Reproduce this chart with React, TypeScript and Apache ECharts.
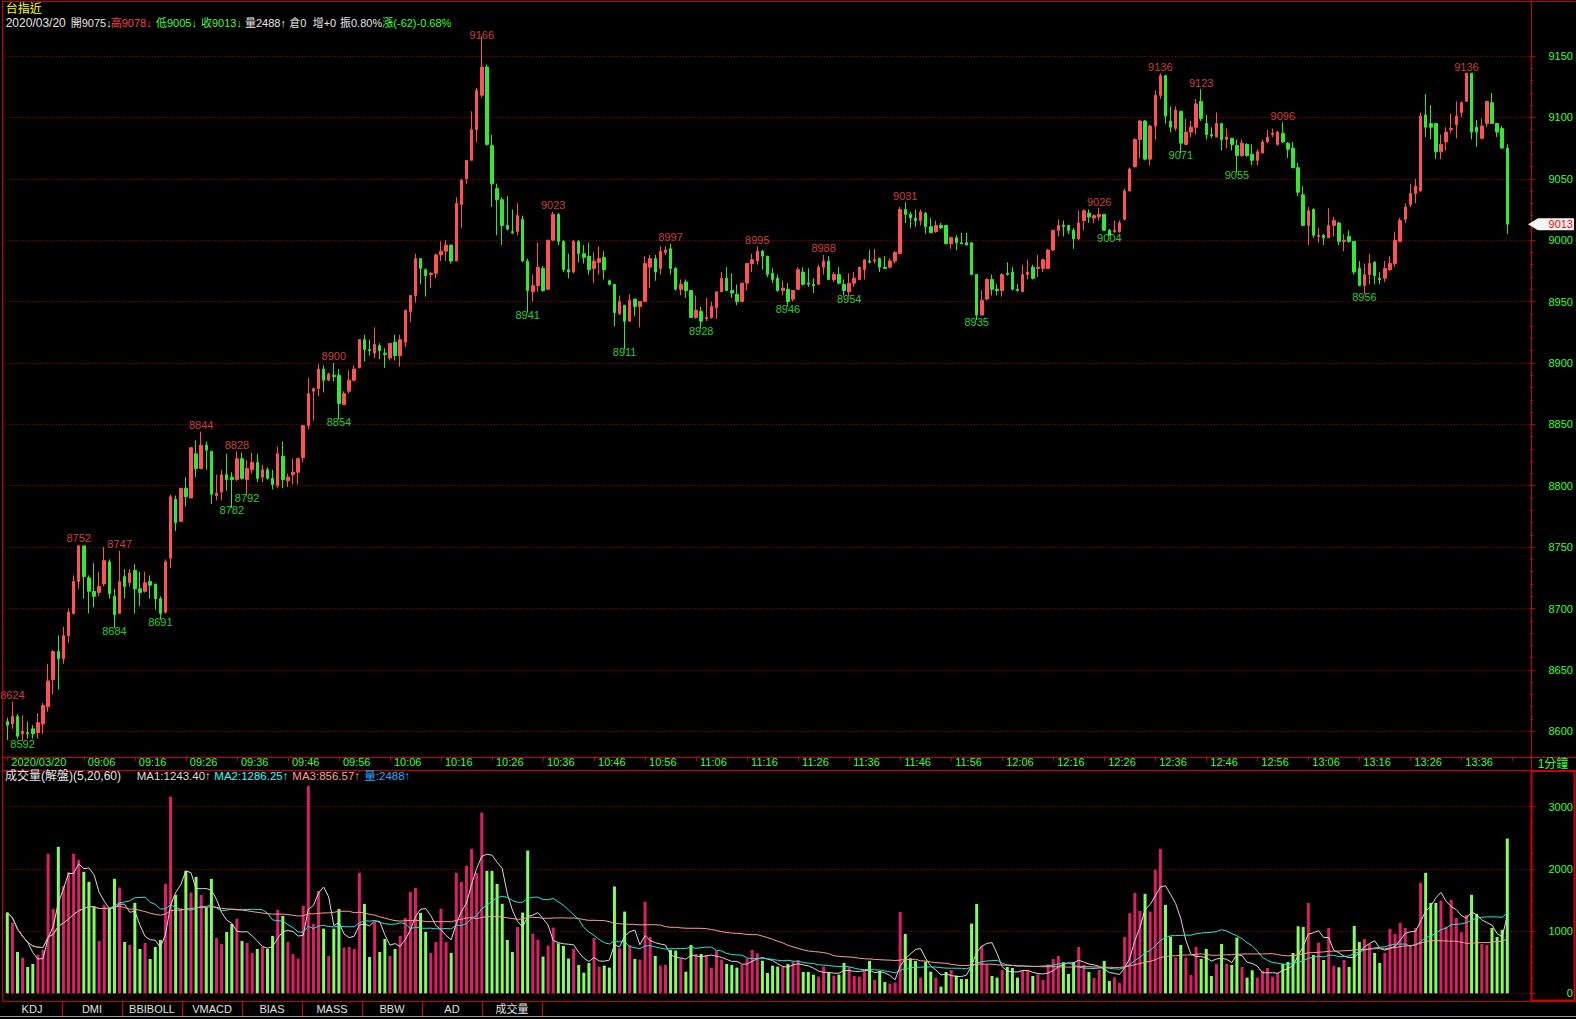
import React, { useEffect, useRef } from "react";
import * as echarts from "echarts";

const FONT = "'Liberation Sans', 'Noto Sans CJK TC', sans-serif";

// ---- data (1-minute bars, 2020/03/20, first bar 08:51) ----
const opens = [
  8608, 8606, 8612, 8598, 8599, 8602, 8599, 8606, 8620, 8642,
  8665, 8659, 8678, 8696, 8722, 8751, 8725, 8714, 8713, 8720,
  8738, 8710, 8696, 8726, 8721, 8731, 8716, 8714, 8722, 8720,
  8708, 8697, 8741, 8789, 8771, 8798, 8790, 8826, 8814, 8833,
  8828, 8792, 8795, 8809, 8807, 8805, 8822, 8805, 8813, 8819,
  8807, 8813, 8806, 8800, 8824, 8804, 8809, 8811, 8823, 8849,
  8877, 8879, 8895, 8886, 8890, 8890, 8866, 8877, 8886, 8896,
  8919, 8911, 8908, 8914, 8908, 8904, 8917, 8906, 8917, 8942,
  8955, 8985, 8976, 8972, 8973, 8988, 8991, 8996, 8983, 9029,
  9050, 9065, 9090, 9118, 9141, 9077, 9042, 9033, 9012, 9007,
  9007, 9017, 8983, 8958, 8963, 8977, 8960, 9000, 9021, 8999,
  8976, 8974, 8999, 8989, 8987, 8977, 8982, 8986, 8967, 8964,
  8940, 8947, 8934, 8952, 8946, 8950, 8978, 8985, 8977, 8990,
  8993, 8977, 8960, 8966, 8959, 8937, 8942, 8936, 8937, 8945,
  8958, 8969, 8959, 8956, 8950, 8965, 8981, 8983, 8991, 8987,
  8973, 8969, 8959, 8960, 8952, 8960, 8974, 8965, 8964, 8964,
  8978, 8983, 8968, 8972, 8964, 8958, 8965, 8968, 8976, 8983,
  8983, 8985, 8978, 8978, 8983, 8989, 9025, 9021, 9018, 9016,
  9022, 9011, 9007, 9012, 9012, 8997, 9002, 8998, 8998, 8998,
  8972, 8939, 8952, 8968, 8960, 8959, 8973, 8974, 8960, 8958,
  8972, 8978, 8977, 8977, 8977, 8992, 9008, 9012, 9012, 9008,
  9001, 9016, 9022, 9018, 9019, 9021, 9008, 9007, 9007, 9017,
  9040, 9060, 9082, 9097, 9066, 9093, 9118, 9134, 9097, 9091,
  9105, 9078, 9088, 9092, 9113, 9095, 9086, 9084, 9095, 9082,
  9083, 9077, 9069, 9078, 9070, 9065, 9071, 9080, 9086, 9078,
  9087, 9079, 9075, 9059, 9037, 9012, 9025, 9003, 9004, 9002,
  9012, 9014, 8999, 9003, 8999, 8977, 8963, 8972, 8982, 8969,
  8969, 8976, 8981, 8999, 9017, 9029, 9038, 9040, 9102, 9095,
  9095, 9072, 9080, 9090, 9094, 9104, 9113, 9136, 9092, 9083,
  9095, 9112, 9095, 9091, 9075,
];
const closes = [
  8605, 8612, 8596, 8600, 8598, 8598, 8607, 8621, 8641, 8665,
  8659, 8678, 8697, 8722, 8751, 8726, 8714, 8710, 8718, 8739,
  8712, 8695, 8722, 8718, 8729, 8716, 8713, 8721, 8719, 8708,
  8696, 8738, 8791, 8770, 8798, 8791, 8831, 8814, 8833, 8829,
  8793, 8794, 8809, 8805, 8805, 8822, 8806, 8814, 8819, 8806,
  8813, 8806, 8801, 8826, 8805, 8807, 8811, 8822, 8849, 8875,
  8879, 8895, 8886, 8891, 8889, 8867, 8875, 8886, 8895, 8919,
  8911, 8910, 8915, 8910, 8907, 8916, 8906, 8919, 8943, 8955,
  8985, 8977, 8971, 8973, 8988, 8991, 8996, 8983, 9030, 9049,
  9065, 9090, 9122, 9141, 9078, 9046, 9033, 9012, 9009, 9006,
  9020, 8983, 8959, 8963, 8978, 8959, 9000, 9021, 8999, 8976,
  8974, 8999, 8989, 8986, 8976, 8983, 8985, 8976, 8964, 8941,
  8950, 8934, 8951, 8946, 8950, 8981, 8985, 8974, 8991, 8992,
  8977, 8960, 8964, 8959, 8937, 8943, 8934, 8937, 8946, 8958,
  8969, 8959, 8957, 8950, 8965, 8981, 8984, 8991, 8987, 8972,
  8968, 8959, 8961, 8950, 8959, 8976, 8964, 8964, 8963, 8978,
  8983, 8968, 8972, 8965, 8959, 8965, 8969, 8978, 8984, 8982,
  8984, 8978, 8977, 8983, 8990, 9025, 9021, 9018, 9016, 9023,
  9011, 9006, 9012, 9010, 8997, 9002, 8998, 8997, 8996, 8972,
  8939, 8951, 8968, 8960, 8959, 8972, 8972, 8960, 8959, 8972,
  8974, 8969, 8978, 8984, 8992, 9008, 9012, 9011, 9008, 9001,
  9014, 9024, 9019, 9020, 9021, 9008, 9004, 9008, 9014, 9040,
  9058, 9082, 9097, 9066, 9093, 9118, 9134, 9101, 9092, 9106,
  9079, 9088, 9092, 9111, 9099, 9086, 9085, 9095, 9082, 9084,
  9078, 9069, 9079, 9069, 9065, 9072, 9080, 9084, 9087, 9088,
  9080, 9074, 9059, 9039, 9012, 9024, 9004, 9004, 9002, 9012,
  9016, 8999, 9000, 8999, 8974, 8963, 8972, 8981, 8971, 8968,
  8977, 8981, 9000, 9016, 9027, 9038, 9044, 9101, 9092, 9092,
  9072, 9078, 9088, 9091, 9101, 9112, 9136, 9088, 9088, 9093,
  9113, 9095, 9088, 9075, 9013,
];
const lows = [
  8593, 8602, 8594, 8592, 8594, 8594, 8594, 8598, 8616, 8630,
  8634, 8655, 8672, 8695, 8716, 8708, 8696, 8701, 8710, 8718,
  8708, 8684, 8696, 8708, 8718, 8696, 8702, 8713, 8708, 8699,
  8691, 8696, 8733, 8763, 8771, 8783, 8790, 8807, 8814, 8813,
  8785, 8788, 8788, 8796, 8782, 8804, 8805, 8792, 8810, 8803,
  8803, 8805, 8797, 8798, 8798, 8799, 8801, 8801, 8819, 8846,
  8853, 8873, 8876, 8885, 8885, 8854, 8866, 8875, 8885, 8896,
  8901, 8906, 8904, 8903, 8896, 8902, 8902, 8897, 8913, 8933,
  8949, 8964, 8954, 8961, 8969, 8983, 8983, 8981, 8983, 9010,
  9046, 9065, 9080, 9116, 9077, 9027, 9004, 8996, 9008, 9005,
  9004, 8982, 8941, 8950, 8958, 8958, 8960, 8999, 8996, 8974,
  8969, 8973, 8982, 8981, 8972, 8965, 8972, 8968, 8963, 8930,
  8939, 8911, 8934, 8938, 8929, 8950, 8961, 8967, 8972, 8988,
  8972, 8959, 8955, 8953, 8937, 8936, 8928, 8934, 8936, 8936,
  8958, 8959, 8953, 8947, 8950, 8959, 8974, 8980, 8976, 8970,
  8965, 8958, 8955, 8946, 8950, 8960, 8963, 8962, 8957, 8964,
  8972, 8968, 8966, 8964, 8955, 8954, 8962, 8968, 8968, 8981,
  8981, 8974, 8977, 8977, 8981, 8989, 9014, 9010, 9011, 9012,
  9005, 9006, 9006, 9009, 8997, 8993, 8992, 8997, 8996, 8972,
  8935, 8939, 8951, 8955, 8955, 8954, 8971, 8959, 8958, 8958,
  8968, 8968, 8970, 8974, 8977, 8991, 9003, 9003, 9005, 8993,
  9000, 9008, 9014, 9014, 9016, 9008, 9004, 9006, 9006, 9016,
  9040, 9059, 9067, 9065, 9061, 9082, 9115, 9095, 9088, 9089,
  9071, 9078, 9084, 9086, 9097, 9082, 9083, 9084, 9073, 9075,
  9073, 9055, 9068, 9068, 9061, 9061, 9071, 9079, 9084, 9077,
  9079, 9067, 9059, 9036, 9012, 8996, 9002, 8998, 8996, 9002,
  9003, 8996, 8991, 8998, 8972, 8963, 8956, 8964, 8964, 8964,
  8966, 8975, 8978, 8999, 9014, 9027, 9030, 9040, 9084, 9082,
  9066, 9066, 9073, 9087, 9083, 9100, 9113, 9082, 9076, 9082,
  9092, 9095, 9084, 9075, 9005,
];
const highs = [
  8611, 8624, 8614, 8613, 8608, 8605, 8615, 8623, 8655, 8666,
  8678, 8685, 8700, 8727, 8752, 8751, 8727, 8737, 8730, 8750,
  8740, 8716, 8747, 8732, 8732, 8736, 8730, 8730, 8727, 8720,
  8710, 8740, 8793, 8792, 8798, 8807, 8831, 8837, 8844, 8836,
  8828, 8809, 8813, 8826, 8811, 8828, 8827, 8821, 8827, 8826,
  8817, 8815, 8813, 8832, 8836, 8810, 8822, 8823, 8849, 8888,
  8880, 8899, 8898, 8892, 8900, 8895, 8877, 8894, 8898, 8919,
  8923, 8919, 8929, 8916, 8912, 8916, 8923, 8923, 8943, 8955,
  8989, 8985, 8977, 8974, 8989, 8999, 9000, 8996, 9035, 9050,
  9065, 9105, 9124, 9166, 9143, 9086, 9046, 9035, 9036, 9025,
  9030, 9020, 8985, 8972, 8998, 8979, 9000, 9023, 9022, 9000,
  8989, 9000, 9000, 8996, 8998, 8990, 8995, 8991, 8968, 8964,
  8955, 8947, 8956, 8952, 8950, 8987, 8988, 8988, 8995, 8995,
  8997, 8978, 8968, 8968, 8959, 8955, 8946, 8953, 8950, 8958,
  8974, 8978, 8973, 8964, 8965, 8981, 8989, 8995, 8992, 8987,
  8977, 8972, 8967, 8965, 8959, 8978, 8978, 8977, 8969, 8980,
  8988, 8987, 8974, 8978, 8968, 8973, 8974, 8978, 8984, 8992,
  8993, 8986, 8987, 8985, 8991, 9027, 9031, 9023, 9025, 9025,
  9023, 9018, 9016, 9014, 9012, 9003, 9004, 9006, 9006, 8998,
  8972, 8959, 8969, 8972, 8964, 8973, 8982, 8978, 8964, 8980,
  8984, 8980, 8988, 8985, 8993, 9008, 9017, 9016, 9012, 9010,
  9024, 9025, 9025, 9021, 9026, 9021, 9009, 9016, 9016, 9042,
  9059, 9083, 9098, 9098, 9094, 9122, 9136, 9134, 9109, 9109,
  9105, 9099, 9097, 9115, 9123, 9102, 9092, 9104, 9095, 9091,
  9083, 9082, 9082, 9079, 9078, 9074, 9082, 9090, 9091, 9089,
  9096, 9080, 9080, 9063, 9044, 9027, 9026, 9010, 9005, 9026,
  9019, 9015, 9005, 9008, 8999, 8983, 8981, 8989, 8983, 8974,
  8983, 8987, 9007, 9018, 9030, 9046, 9050, 9104, 9119, 9110,
  9095, 9086, 9092, 9103, 9113, 9113, 9136, 9136, 9098, 9099,
  9113, 9120, 9095, 9093, 9078,
];
const volumes = [
  1298, 1137, 665, 573, 423, 472, 620, 700, 2243, 1357,
  2355, 1727, 1947, 2243, 2146, 1953, 1792, 1395, 842, 1421,
  1368, 1840, 1701, 826, 778, 1454, 713, 810, 552, 745,
  858, 1760, 3160, 1582, 1368, 1969, 1620, 1872, 1582, 1378,
  1840, 890, 793, 987, 1116, 1196, 842, 810, 649, 713,
  745, 713, 922, 1341, 1244, 826, 633, 557, 1405, 3337,
  1116, 1647, 1040, 600, 1040, 1357, 734, 745, 713, 1937,
  1438, 584, 1148, 665, 874, 600, 713, 922, 1212, 1631,
  1695, 1293, 987, 649, 826, 1357, 826, 649, 1937, 1792,
  2049, 2323, 1937, 2903, 1969, 1969, 1760, 1438, 858, 665,
  1067, 1298, 2296, 960, 863, 590, 767, 1057, 804, 761,
  557, 718, 455, 332, 488, 890, 429, 445, 413, 1717,
  724, 1314, 772, 552, 541, 1470, 906, 600, 445, 455,
  697, 686, 557, 348, 777, 632, 632, 616, 413, 686,
  541, 472, 455, 413, 455, 557, 697, 643, 525, 327,
  445, 429, 429, 472, 509, 536, 343, 343, 300, 268,
  429, 337, 284, 300, 488, 418, 278, 268, 375, 520,
  214, 359, 182, 155, 171, 1309, 955, 563, 520, 252,
  509, 348, 252, 107, 343, 375, 284, 230, 230, 1121,
  1438, 761, 466, 278, 252, 375, 423, 407, 252, 375,
  375, 278, 305, 214, 466, 552, 600, 499, 311, 499,
  745, 456, 343, 246, 375, 520, 199, 257, 166, 906,
  1288, 1615, 1325, 1599, 1314, 1985, 2323, 1422, 912, 574,
  777, 574, 295, 745, 552, 713, 278, 472, 794, 472,
  456, 896, 423, 252, 370, 252, 359, 407, 268, 327,
  472, 504, 649, 1078, 1067, 1454, 617, 815, 536, 1051,
  439, 418, 536, 423, 1083, 826, 874, 794, 649, 488,
  649, 1035, 955, 1132, 1051, 777, 1051, 1776, 1937, 1454,
  1454, 1491, 1072, 1502, 1212, 981, 1260, 1583, 1277, 794,
  777, 1051, 906, 1020, 2488,
];

// annotated swing highs / lows (bar indices)
const highMarkIdx = [1, 14, 22, 38, 45, 64, 93, 107, 130, 147, 160, 176, 214, 226, 234, 250, 286];
const lowMarkIdx = [3, 21, 30, 44, 47, 65, 102, 121, 136, 153, 165, 190, 216, 230, 241, 266];

const dateLabel = "2020/03/20";
const firstBarMinute = 8 * 60 + 51;
const slotCount = 299;
const categories = Array.from({ length: slotCount }, (_, i) => {
  const m = firstBarMinute + i;
  return String(Math.floor(m / 60)).padStart(2, "0") + ":" + String(m % 60).padStart(2, "0");
});

const priceAxis = { min: 8600, max: 9150, step: 50 };
const volumeAxis = { min: 0, max: 3000, step: 1000 };
const maPeriods = [5, 20, 60];

const headerTitle = "台指近";
const headerParts = [
  "2020/03/20", "開9075↓", "高9078↓", "低9005↓", "收9013↓", "量2488↑", "倉0", "增+0", "振0.80%", "漲(-62)-0.68%",
];
const volumeHeaderParts = ["成交量(解盤)(5,20,60)", "MA1:1243.40↑", "MA2:1286.25↑", "MA3:856.57↑", "量:2488↑"];
const tabNames = ["KDJ", "DMI", "BBIBOLL", "VMACD", "BIAS", "MASS", "BBW", "AD", "成交量"];

const RED_LINE = "#d00000";
const GRID_DOT = "#b00000";
const AXIS_GREEN = "#3cff3c";
const UP = "#ff5252";
const DOWN = "#33e833";
const VOL_UP = "#dc2068";
const VOL_DOWN = "#84fc62";

function movingAvg(arr: number[], n: number) {
  return arr.map((_, i) => {
    const s = Math.max(0, i - n + 1);
    let sum = 0;
    for (let k = s; k <= i; k++) sum += arr[k];
    return +(sum / (i - s + 1)).toFixed(2);
  });
}

export default function App() {
  const ref = useRef<HTMLDivElement>(null);
  useEffect(() => {
    const chart = echarts.init(ref.current!, null, { renderer: "svg" });
    const n = opens.length;
    const isUp = (i: number) =>
      closes[i] > opens[i] || (closes[i] === opens[i] && i > 0 && closes[i] >= closes[i - 1]);
    const candleData = opens.map((o, i) => [o, closes[i], lows[i], highs[i]]);
    const tickShown = (idx: number) => idx === 0 || (idx >= 15 && (firstBarMinute + idx) % 10 === 6);
    const labelShown = (idx: number) => tickShown(idx) && idx < n;

    let gid = 0;
    const line = (x1: number, y1: number, x2: number, y2: number, color = RED_LINE, w = 1) => ({
      id: "g" + gid++, type: "line", silent: true, z: 50,
      shape: { x1, y1, x2, y2 }, style: { stroke: color, lineWidth: w },
    });
    const text = (x: number, y: number, t: string, color: string, align = "left", size = 12) => ({
      id: "g" + gid++, type: "text", silent: true, z: 50, x, y,
      style: { text: t, fill: color, font: `${size}px ${FONT}`, align, verticalAlign: "middle" },
    });

    const W = "#e6e6e6";
    const G = "#3cff3c";
    const R = "#ff4040";
    const headerX = [5.7, 70.7, 110.7, 156, 201, 245, 289.3, 312.7, 340, 382.3];
    const headerC = [W, W, R, G, G, W, W, W, W, G];
    const volHeaderX = [5, 136.7, 214.3, 292.3, 364.3];
    const volHeaderC = ["#e6e6e6", "#dcdcdc", "#30ffff", "#ffa088", "#2aa8ff"];

    const graphics: any[] = [
      line(2, 1.5, 1575, 1.5),
      line(2.5, 1, 2.5, 1001),
      line(1531.5, 1, 1531.5, 1001),
      line(2, 757.5, 1576, 757.5),
      line(2, 770.5, 1576, 770.5),
      line(2, 1001.5, 1576, 1001.5),
      line(1531.5, 770.5, 1531.5, 1001, RED_LINE, 2),
      line(1574.5, 770.5, 1574.5, 1001, RED_LINE, 2),
      line(1531.5, 771, 1575, 771, RED_LINE, 2),
      line(1531.5, 1000.5, 1575, 1000.5, RED_LINE, 2),
      line(0, 1016.5, 1576, 1016.5, "#9a9a9a", 1),
      text(5.7, 8.5, headerTitle, "#ffff00"),
      ...headerParts.map((t, k) => text(headerX[k], 22.5, t, headerC[k], "left", k === 0 ? 12 : 11)),
      ...volumeHeaderParts.map((t, k) => text(volHeaderX[k], 775.5, t, volHeaderC[k], "left", k === 0 ? 12 : 11.5)),
      text(1553, 763.5, "1分鐘", AXIS_GREEN, "center"),
      ...tabNames.map((t, k) => text(32 + 60 * k, 1008.5, t, "#e0e0e0", "center", 11)),
      ...tabNames.map((_, k) => line(62.5 + 60 * k, 1001, 62.5 + 60 * k, 1016)),
    ];

    const option: any = {
      animation: false,
      backgroundColor: "#000",
      textStyle: { fontFamily: FONT },
      grid: [
        { left: 4.75, top: 56, width: 1525.5, height: 675.3 },
        { left: 4.75, top: 806.7, width: 1525.5, height: 186.6 },
      ],
      xAxis: [
        {
          type: "category", gridIndex: 0, data: categories, boundaryGap: true,
          position: "bottom", offset: 25.7,
          axisLine: { show: false },
          axisTick: { show: true, alignWithLabel: true, interval: (i: number) => tickShown(i), length: 4, lineStyle: { color: RED_LINE } },
          axisLabel: {
            show: true, interval: (i: number) => labelShown(i),
            formatter: (v: string, i: number) => (i === 0 ? dateLabel : v),
            align: "left", color: AXIS_GREEN, fontFamily: FONT, fontSize: 11, margin: -1,
            padding: [0, 0, 0, 4], hideOverlap: false,
          },
          splitLine: { show: false },
        },
        {
          type: "category", gridIndex: 1, data: categories, boundaryGap: true,
          axisLine: { show: false }, axisTick: { show: false }, axisLabel: { show: false }, splitLine: { show: false },
        },
      ],
      yAxis: [
        {
          type: "value", gridIndex: 0, position: "right",
          min: priceAxis.min, max: priceAxis.max, interval: priceAxis.step,
          axisLine: { show: false },
          axisTick: { show: true, length: 5, lineStyle: { color: RED_LINE } },
          minorTick: { show: true, splitNumber: 5, length: 3, lineStyle: { color: RED_LINE } },
          axisLabel: {
            color: AXIS_GREEN, fontFamily: FONT, fontSize: 11, align: "right", margin: 42.7,
            formatter: (v: number) => String(v),
          },
          splitLine: { show: true, lineStyle: { color: GRID_DOT, type: [1, 2], width: 1 } },
          minorSplitLine: { show: false },
        },
        {
          type: "value", gridIndex: 1, position: "right",
          min: volumeAxis.min, max: volumeAxis.max, interval: volumeAxis.step,
          axisLine: { show: false },
          axisTick: { show: true, length: 5, lineStyle: { color: RED_LINE } },
          minorTick: { show: true, splitNumber: 4, length: 3, lineStyle: { color: RED_LINE } },
          axisLabel: {
            color: AXIS_GREEN, fontFamily: FONT, fontSize: 11, align: "right", margin: 42.7,
            formatter: (v: number) => String(v),
          },
          splitLine: { show: true, lineStyle: { color: GRID_DOT, type: [1, 2], width: 1 } },
        },
      ],
      series: [
        {
          type: "candlestick", xAxisIndex: 0, yAxisIndex: 0, data: candleData, barWidth: 3, clip: false,
          itemStyle: { color: UP, color0: DOWN, borderColor: UP, borderColor0: DOWN, borderWidth: 1 },
          emphasis: { disabled: true },
        },
        {
          type: "scatter", xAxisIndex: 0, yAxisIndex: 0, symbolSize: 0, clip: false, silent: true,
          label: { show: true, fontFamily: FONT, fontSize: 11, formatter: (p: any) => String(p.value[1]) },
          data: [
            ...highMarkIdx.map((i) => ({
              value: [i, highs[i]],
              label: { position: "top", distance: highs[i] > priceAxis.max ? -4 : 1, color: "#ff5050" },
            })),
            ...lowMarkIdx.map((i) => ({ value: [i, lows[i]], label: { position: "bottom", distance: -3, color: "#3cff3c" } })),
          ],
        },
        {
          type: "bar", xAxisIndex: 1, yAxisIndex: 1, barWidth: 3, clip: false,
          data: volumes.map((v, i) => ({ value: v, itemStyle: { color: isUp(i) ? VOL_UP : VOL_DOWN } })),
          emphasis: { disabled: true },
        },
        ...maPeriods.map((p, k) => ({
          type: "line", xAxisIndex: 1, yAxisIndex: 1, showSymbol: false, symbol: "none", silent: true,
          data: movingAvg(volumes, p),
          lineStyle: { width: 1, color: ["#d8d8d8", "#22e6d8", "#ff9f88"][k] },
        })),
      ],
      graphic: graphics,
    };
    chart.setOption(option);

    const last = closes[n - 1];
    const y = chart.convertToPixel({ yAxisIndex: 0 }, last) as number;
    chart.setOption({
      graphic: [
        {
          id: "tagPoly", type: "polygon", silent: true, z: 60,
          shape: { points: [[1528, y], [1538, y - 6], [1574, y - 6], [1574, y + 6], [1538, y + 6]] },
          style: { fill: "#f4f4f4" },
        },
        {
          id: "tagText", type: "text", silent: true, z: 61, x: 1573, y,
          style: { text: String(last), fill: "#ff0000", font: `11px ${FONT}`, align: "right", verticalAlign: "middle" },
        },
      ],
    });

    return () => chart.dispose();
  }, []);
  return (
    <div
      ref={ref}
      style={{ position: "absolute", left: 0, top: 0, width: 1576, height: 1019, background: "#000" }}
    />
  );
}
